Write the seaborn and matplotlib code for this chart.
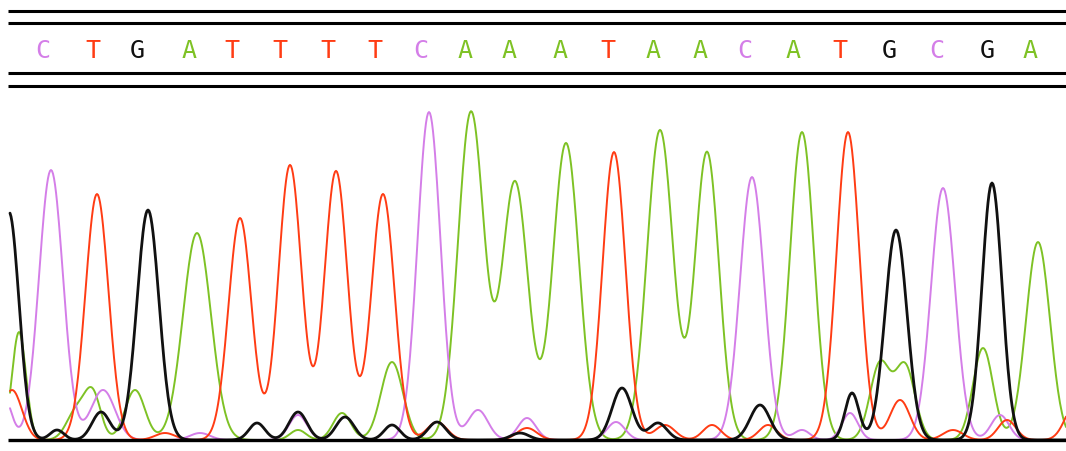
import matplotlib
matplotlib.use("Agg")
import matplotlib.pyplot as plt
import numpy as np
import pandas as pd
import seaborn as sns

# base calls shown in the header strip
bases = list("CTGATTTTCAAATAACATGCGA")
call_pos = [43, 93, 137, 189, 232, 280, 328, 375, 421, 465, 509,
            560, 608, 653, 700, 745, 793, 840, 889, 937, 987, 1030]

# peaks: position, height, width
c_pos = [5, 51, 103, 200, 298, 429, 478, 527, 616, 752, 802, 850, 943, 1000]
c_amp = [40, 270, 50, 7, 25, 328, 30, 22, 18, 263, 10, 27, 252, 25]
c_wid = [7, 12, 12, 10, 9, 11.5, 10, 9, 9, 12, 8, 8, 12, 9]

t_pos = [12, 97, 165, 240, 290, 336, 383, 437, 527, 614, 665, 712, 768,
         848, 900, 953, 1007, 1075]
t_amp = [50, 246, 7, 222, 275, 269, 246, 18, 12, 288, 15, 15, 15,
         308, 40, 10, 20, 35]
t_wid = [10, 11.5, 10, 11.5, 11.5, 11.5, 11.5, 10, 10, 11.5, 10, 9, 9,
         11.5, 10, 10, 9, 10]

g_pos = [9, 57, 101, 148, 257, 298, 345, 392, 437, 520, 622, 658, 760,
         852, 896, 992]
g_amp = [228, 10, 28, 230, 17, 28, 23, 15, 18, 7, 52, 17, 35, 47, 210, 257]
g_wid = [10, 7, 9, 11, 8, 9, 9, 8, 9, 9, 10, 9, 10, 7, 11, 10]

a_pos = [19, 77, 93, 135, 197, 298, 342, 392, 471, 515, 566, 660, 707,
         802, 880, 905, 983, 1038]
a_amp = [108, 30, 43, 50, 207, 10, 27, 78, 328, 258, 297, 310, 288,
         308, 76, 74, 92, 198]
a_wid = [7, 10, 8, 10, 14, 8, 9, 11, 13, 13, 13, 13, 12, 12, 10, 10, 10, 12]

colors = {"A": "#7ec225", "C": "#d47ee8", "T": "#ff3c14", "G": "#111111"}


def trace(x, pos, amp, wid):
    y = np.zeros_like(x)
    for p, a, w in zip(pos, amp, wid):
        y += a * np.exp(-0.5 * ((x - p) / w) ** 2)
    return y


def main():
    sns.set_style("white")
    fig = plt.figure(figsize=(10.66, 4.51), dpi=100)
    ax = fig.add_axes([0, 0, 1, 1])

    x = np.arange(10, 1067, 1.0)
    channels = [("A", a_pos, a_amp, a_wid, 1.4),
                ("C", c_pos, c_amp, c_wid, 1.4),
                ("T", t_pos, t_amp, t_wid, 1.4),
                ("G", g_pos, g_amp, g_wid, 2.0)]
    for base, pos, amp, wid, lw in channels:
        df = pd.DataFrame({"scan": x, "signal": trace(x, pos, amp, wid)})
        sns.lineplot(data=df, x="scan", y="signal", color=colors[base],
                     lw=lw, estimator=None, ax=ax)

    # baseline and header rules
    ax.hlines(0, 8, 1066, color="black", lw=2.4)
    ax.hlines([429.5, 417, 367, 354], 8, 1066, color="black", lw=2.2)

    for b, px in zip(bases, call_pos):
        ax.text(px, 389, b, color=colors[b], ha="center", va="center",
                fontsize=18, family="DejaVu Sans Mono")

    ax.set_xlim(0, 1066)
    ax.set_ylim(-11, 440)
    ax.axis("off")
    fig.savefig("out.png", dpi=100)


if __name__ == "__main__":
    main()
